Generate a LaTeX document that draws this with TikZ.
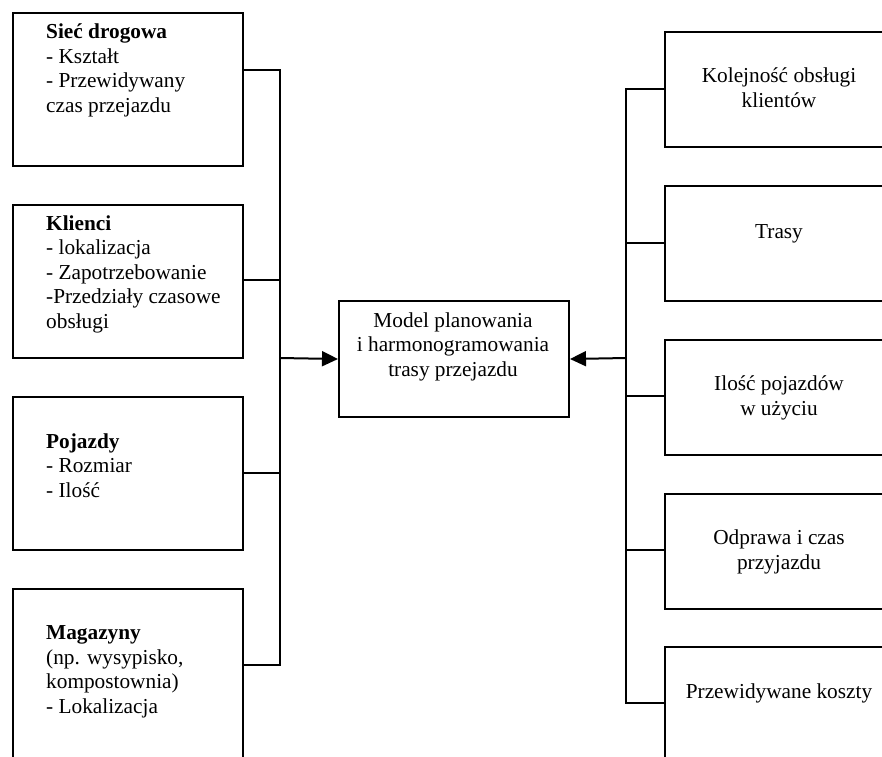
\documentclass[tikz,border=0pt]{standalone}
\usepackage{fontspec}
\setmainfont{Liberation Serif}
\usetikzlibrary{arrows.meta}
\tikzset{
  pole/.style={draw, line width=2pt, minimum width=230pt, inner sep=0pt, anchor=north west},
  opis/.style={font=\fontsize{21.3}{24.5}\selectfont, inner sep=0pt, align=left, anchor=base west},
  wynik/.style={font=\fontsize{21.3}{24.5}\selectfont, inner sep=0pt, align=center, anchor=base},
  linia/.style={line width=2pt},
  strzalka/.style={linia, -{Triangle[length=16pt,width=15pt]}}
}
\begin{document}
\begin{tikzpicture}[x=1pt,y=-1pt]
	\useasboundingbox (0,0) rectangle (882,756);
	\clip (0,0) rectangle (882,756);
	% dane wejsciowe (kotwica: linia bazowa ostatniego wiersza)
	\node[pole, minimum height=153pt] (siec) at (12,12) {};
	\node[pole, minimum height=153pt] (klienci) at (12,204) {};
	\node[pole, minimum height=153pt] (pojazdy) at (12,396) {};
	\node[pole, minimum height=190pt] (magazyny) at (12,588) {};
	\node[opis] (tsiec) at (46,112) {\textbf{Sieć drogowa}\\- Kształt\\- Przewidywany\\czas przejazdu};
	\node[opis] (tklienci) at (46,328) {\textbf{Klienci}\\- lokalizacja\\- Zapotrzebowanie\\-Przedziały czasowe\\obsługi};
	\node[opis] (tpojazdy) at (46,497) {\textbf{Pojazdy}\\- Rozmiar\\- Ilość};
	\node[opis] (tmagazyny) at (46,713) {\textbf{Magazyny}\\(np. wysypisko,\\kompostownia)\\- Lokalizacja};
	% model
	\node[pole, minimum width=230pt, minimum height=116pt] (model) at (338,300) {};
	\node[wynik] (tmodel) at (453,376) {Model planowania\\i harmonogramowania\\trasy przejazdu};
	% wyniki
	\node[pole, minimum height=115pt] (kolejnosc) at (664,31) {};
	\node[pole, minimum height=115pt] (trasy) at (664,185) {};
	\node[pole, minimum height=115pt] (ilosc) at (664,339) {};
	\node[pole, minimum height=115pt] (odprawa) at (664,493) {};
	\node[pole, minimum height=115pt] (koszty) at (664,646) {};
	\node[wynik] (tkolejnosc) at (779,107) {Kolejność obsługi\\klientów};
	\node[wynik] (ttrasy) at (779,238) {Trasy};
	\node[wynik] (tilosc) at (779,415) {Ilość pojazdów\\w użyciu};
	\node[wynik] (todprawa) at (779,569) {Odprawa i czas\\przyjazdu};
	\node[wynik] (tkoszty) at (779,698) {Przewidywane koszty};
	% szyny
	\coordinate (l1) at (280,70);
	\coordinate (l2) at (280,280);
	\coordinate (l3) at (280,473);
	\coordinate (l4) at (280,665);
	\coordinate (lm) at (280,358);
	\coordinate (p1) at (626,89);
	\coordinate (p2) at (626,243);
	\coordinate (p3) at (626,396);
	\coordinate (p4) at (626,550);
	\coordinate (p5) at (626,703);
	\coordinate (pm) at (626,358);
	\draw[linia] (siec.east |- l1) -- (l1) -- (l4) -- (magazyny.east |- l4);
	\draw[linia] (klienci.east |- l2) -- (l2);
	\draw[linia] (pojazdy.east |- l3) -- (l3);
	\draw[linia] (kolejnosc.west |- p1) -- (p1) -- (p5) -- (koszty.west |- p5);
	\draw[linia] (trasy.west |- p2) -- (p2);
	\draw[linia] (ilosc.west |- p3) -- (p3);
	\draw[linia] (odprawa.west |- p4) -- (p4);
	\draw[strzalka] (lm) -- (model.west);
	\draw[strzalka] (pm) -- (model.east);
\end{tikzpicture}
\end{document}
